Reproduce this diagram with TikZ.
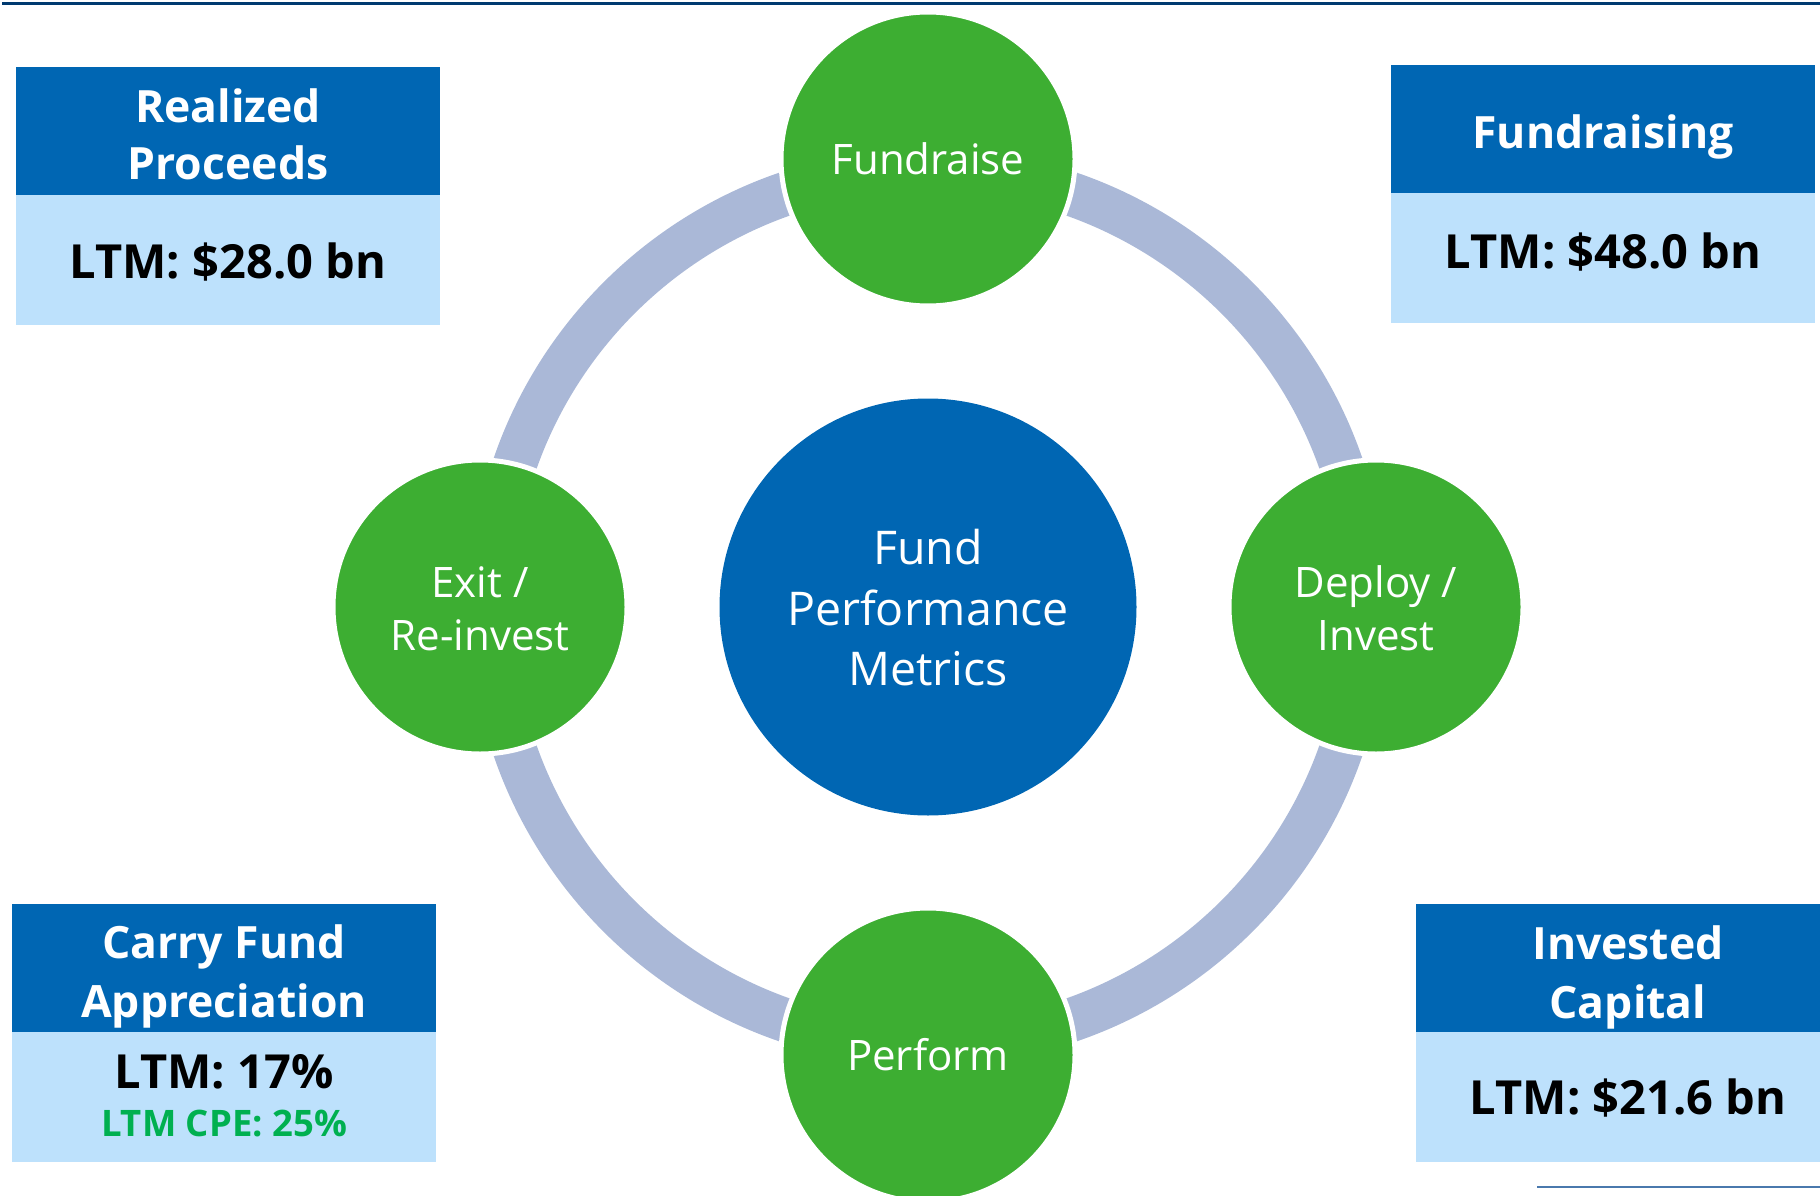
\documentclass[tikz,border=0pt]{standalone}
\usepackage{fontspec}
\setmainfont{Open Sans}
\definecolor{ringc}{HTML}{AAB8D7}
\definecolor{greenc}{HTML}{3DAE32}
\definecolor{darkb}{HTML}{0066B3}
\definecolor{lightb}{HTML}{BDE1FC}
\definecolor{navy}{HTML}{003A70}
\definecolor{cpegreen}{HTML}{00B050}
\definecolor{steel}{HTML}{4A79AD}
\begin{document}
\begin{tikzpicture}[x=1pt,y=-1pt,
  stage/.style={circle, fill=greenc, draw=white, line width=5pt, minimum size=294pt, inner sep=0pt},
  hub/.style={circle, fill=darkb, minimum size=417pt, inner sep=0pt},
  headbox/.style={fill=darkb, inner sep=0pt, anchor=north west},
  bodybox/.style={fill=lightb, inner sep=0pt, anchor=north west},
  stxt/.style={text=white, inner sep=0pt, anchor=base, font=\fontsize{42}{50}\selectfont},
  htxt/.style={text=white, inner sep=0pt, anchor=base, font=\fontsize{46.5}{50}\selectfont},
  headtxt/.style={text=white, inner sep=0pt, anchor=base, font=\bfseries\fontsize{44.5}{50}\selectfont},
  valtxt/.style={text=black, inner sep=0pt, anchor=base, font=\bfseries\fontsize{47}{50}\selectfont},
  cpetxt/.style={text=cpegreen, inner sep=0pt, anchor=base, font=\bfseries\fontsize{36.5}{40}\selectfont},
  ring/.style={draw=ringc, line width=44pt}
]
\useasboundingbox (0,0) rectangle (1820,1196);
\clip (0,0) rectangle (1820,1196);

% top and bottom rules
\draw[navy, line width=3pt] (2,4) -- (1820,4);
\draw[steel, line width=2pt] (1537,1187) -- (1820,1187);

% cycle ring
\node[hub] (hub) at (928,607) {};
\draw[ring] (hub.center) circle[radius=437pt];

% stage circles
\node[stage] (fund) at (928,159) {};
\node[stage] (deploy) at (1376,607) {};
\node[stage] (perform) at (928,1055) {};
\node[stage] (exit) at (480,607) {};

% texts in circles
\node[stxt] (fundT) at (928,175) {Fundraise};
\node[stxt] (deployT1) at (1376,597) {Deploy /};
\node[stxt] (deployT2) at (1376,650) {Invest};
\node[stxt] (performT) at (928,1070) {Perform};
\node[stxt] (exitT1) at (480,597) {Exit /};
\node[stxt] (exitT2) at (480,650) {Re-invest};
\node[htxt] (hubT1) at (928,564) {Fund};
\node[htxt] (hubT2) at (928,625) {Performance};
\node[htxt] (hubT3) at (928,685) {Metrics};

% Realized Proceeds box
\node[headbox, minimum width=424pt, minimum height=128pt] (rpH) at (16,67) {};
\node[bodybox, minimum width=424pt, minimum height=130pt] (rpB) at (16,195) {};
\node[headtxt] (rpT1) at (228,123) {Realized};
\node[headtxt] (rpT2) at (228,179) {Proceeds};
\node[valtxt] (rpV) at (228,278) {LTM: \$28.0 bn};

% Fundraising box
\node[headbox, minimum width=424pt, minimum height=128pt] (frH) at (1391,65) {};
\node[bodybox, minimum width=424pt, minimum height=130pt] (frB) at (1391,193) {};
\node[headtxt] (frT) at (1603,149) {Fundraising};
\node[valtxt] (frV) at (1603,268) {LTM: \$48.0 bn};

% Carry Fund Appreciation box
\node[headbox, minimum width=424pt, minimum height=128pt] (cfH) at (12,904) {};
\node[bodybox, minimum width=424pt, minimum height=130pt] (cfB) at (12,1032) {};
\node[headtxt] (cfT1) at (224,958) {Carry Fund};
\node[headtxt] (cfT2) at (224,1017) {Appreciation};
\node[valtxt] (cfV) at (224,1088) {LTM: 17\%};
\node[cpetxt] (cfC) at (224,1136) {LTM CPE: 25\%};

% Invested Capital box
\node[headbox, minimum width=424pt, minimum height=128pt] (icH) at (1416,904) {};
\node[bodybox, minimum width=424pt, minimum height=130pt] (icB) at (1416,1032) {};
\node[headtxt] (icT1) at (1628,959) {Invested};
\node[headtxt] (icT2) at (1628,1018) {Capital};
\node[valtxt] (icV) at (1628,1114) {LTM: \$21.6 bn};
\end{tikzpicture}
\end{document}
